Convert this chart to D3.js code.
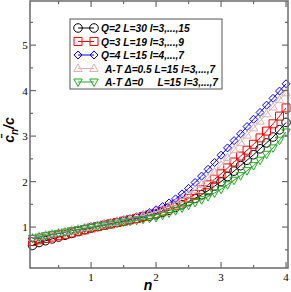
<!DOCTYPE html>
<html>
<head>
<meta charset="utf-8">
<script src="https://cdn.jsdelivr.net/npm/d3@7"></script>
<style>
  body { margin: 0; background: #fff; }
  svg { display: block; }
</style>
</head>
<body>
<svg width="291" height="292"></svg>
<script>
// n values, one point every 0.1
var nVals = d3.range(1, 41).map(function(i) { return i / 10; });

var q2 = [0.60,0.66,0.70,0.74,0.78,0.82,0.86,0.90,0.94,0.98,
          1.01,1.04,1.07,1.10,1.13,1.16,1.19,1.22,1.24,1.27,
          1.32,1.37,1.43,1.49,1.56,1.63,1.71,1.80,1.90,2.00,
          2.11,2.23,2.35,2.47,2.59,2.72,2.85,2.98,3.14,3.30];
var q3 = [0.68,0.72,0.75,0.78,0.81,0.84,0.87,0.91,0.94,0.98,
          1.01,1.04,1.07,1.10,1.13,1.16,1.19,1.23,1.27,1.30,
          1.35,1.41,1.48,1.55,1.63,1.72,1.82,1.93,2.05,2.17,
          2.30,2.43,2.56,2.69,2.82,2.96,3.11,3.27,3.44,3.62];
var q4 = [0.75,0.78,0.81,0.84,0.86,0.89,0.92,0.95,0.98,1.01,
          1.04,1.07,1.10,1.13,1.16,1.19,1.23,1.27,1.32,1.38,
          1.45,1.53,1.62,1.73,1.85,1.98,2.12,2.27,2.42,2.58,
          2.74,2.90,3.05,3.21,3.37,3.52,3.68,3.83,3.99,4.15];
var at05 = [0.77,0.80,0.83,0.85,0.88,0.90,0.93,0.96,0.99,1.01,
            1.04,1.07,1.10,1.13,1.16,1.19,1.22,1.26,1.30,1.34,
            1.39,1.45,1.53,1.61,1.71,1.82,1.94,2.07,2.21,2.36,
            2.53,2.70,2.86,3.02,3.18,3.33,3.49,3.64,3.80,3.95];
var at0 = [0.75,0.78,0.81,0.84,0.86,0.89,0.92,0.94,0.97,0.99,
           1.02,1.04,1.06,1.09,1.11,1.13,1.15,1.17,1.19,1.21,
           1.26,1.31,1.36,1.42,1.48,1.54,1.60,1.67,1.75,1.83,
           1.93,2.03,2.13,2.24,2.35,2.47,2.60,2.74,2.91,3.09];

var seriesNames = ["Q=2 L=30 l=3,...,15", "Q=3 L=19 l=3,...,9", "Q=4 L=15 l=4,...,7",
                   "A-T \u0394=0.5 L=15 l=3,...,7", "A-T \u0394=0     L=15 l=3,...,7"];
var xTicks = [1, 2, 3, 4];
var yTicks = [1, 2, 3, 4, 5];

var series = [
  {name: seriesNames[0], values: q2,   color: "#000000", shape: "circle"},
  {name: seriesNames[1], values: q3,   color: "#ff0000", shape: "square"},
  {name: seriesNames[2], values: q4,   color: "#0000ff", shape: "diamond"},
  {name: seriesNames[3], values: at05, color: "#dcb2b2", shape: "up"},
  {name: seriesNames[4], values: at0,  color: "#22a822", shape: "down"}
];

var svg = d3.select("svg");
var pL = 30, pR = 288, pT = 1, pB = 268;

var x = d3.scaleLinear().domain([0.06, 4.03]).range([pL, pR]);
var y = d3.scaleLinear().domain([0.1, 5.97]).range([pB, pT]);

var axisColor = "#6a6a6a";

// marker shapes
function markerPath(shape) {
  if (shape == "circle") return d3.symbol().type(d3.symbolCircle).size(58)();
  if (shape == "square") return "M-4,-4L4,-4L4,4L-4,4Z";
  if (shape == "diamond") return "M0,-4L4,0L0,4L-4,0Z";
  if (shape == "up") return "M0,-4.5L4.2,3L-4.2,3Z";
  return "M0,4.5L4.2,-3L-4.2,-3Z";
}

var plot = svg.append("g");

series.forEach(function(s) {
  var pts = nVals.map(function(n, i) { return [n, s.values[i]]; });
  plot.append("path")
    .attr("d", d3.line().x(function(d) { return x(d[0]); }).y(function(d) { return y(d[1]); })(pts))
    .attr("fill", "none")
    .attr("stroke", s.color)
    .attr("stroke-width", 1);
  plot.selectAll(null).data(pts).enter().append("path")
    .attr("d", markerPath(s.shape))
    .attr("transform", function(d) { return "translate(" + x(d[0]) + "," + y(d[1]) + ")"; })
    .attr("fill", "none")
    .attr("stroke", s.color)
    .attr("stroke-width", 1);
});

// frame
svg.append("rect")
  .attr("x", pL).attr("y", pT)
  .attr("width", pR - pL).attr("height", pB - pT)
  .attr("fill", "none").attr("stroke", axisColor).attr("stroke-width", 1.5);

// ticks on all four sides, pointing inward
var xMinor = d3.range(0.5, 4.01, 0.5);
var yMinor = d3.range(0.5, 5.96, 0.5);
var tg = svg.append("g").attr("stroke", axisColor).attr("stroke-width", 1.2);
xMinor.forEach(function(v) {
  var len = (v % 1 == 0) ? 6 : 3;
  tg.append("line").attr("x1", x(v)).attr("x2", x(v)).attr("y1", pB).attr("y2", pB - len);
  tg.append("line").attr("x1", x(v)).attr("x2", x(v)).attr("y1", pT).attr("y2", pT + len);
});
yMinor.forEach(function(v) {
  var len = (v % 1 == 0) ? 6 : 3;
  tg.append("line").attr("y1", y(v)).attr("y2", y(v)).attr("x1", pL).attr("x2", pL + len);
  tg.append("line").attr("y1", y(v)).attr("y2", y(v)).attr("x1", pR).attr("x2", pR - len);
});

// tick labels
svg.selectAll(".xl").data(xTicks).enter().append("text")
  .attr("x", function(d) { return x(d); }).attr("y", 281)
  .attr("text-anchor", "middle")
  .attr("font-family", "Liberation Serif, Times New Roman, serif").attr("font-size", 11)
  .text(function(d) { return d; });
svg.selectAll(".yl").data(yTicks).enter().append("text")
  .attr("x", 25).attr("y", function(d) { return y(d) + 4; })
  .attr("text-anchor", "middle")
  .attr("font-family", "Liberation Serif, Times New Roman, serif").attr("font-size", 11)
  .text(function(d) { return d; });

// axis titles
svg.append("text")
  .attr("x", 148).attr("y", 290)
  .attr("text-anchor", "middle")
  .attr("font-family", "Liberation Sans, Arial, sans-serif")
  .attr("font-size", 14).attr("font-weight", "bold").attr("font-style", "italic")
  .text("n");

var yl = svg.append("text")
  .attr("transform", "translate(14,130) rotate(-90)")
  .attr("text-anchor", "middle")
  .attr("font-family", "Liberation Sans, Arial, sans-serif")
  .attr("font-size", 14).attr("font-weight", "bold").attr("font-style", "italic");
yl.append("tspan").text("c\u0304");
yl.append("tspan").attr("font-size", 10).attr("dy", 4).text("n");
yl.append("tspan").attr("dy", -4).text("/c");

// legend
var lg = svg.append("g");
lg.append("rect").attr("x", 70).attr("y", 19).attr("width", 152).attr("height", 70)
  .attr("fill", "#fff").attr("stroke", "#555").attr("stroke-width", 1);

series.forEach(function(s, i) {
  var yy = 28 + i * 13.5;
  lg.append("line").attr("x1", 78).attr("x2", 94).attr("y1", yy).attr("y2", yy)
    .attr("stroke", s.color).attr("stroke-width", 1);
  [78, 94].forEach(function(xx) {
    lg.append("path").attr("d", markerPath(s.shape))
      .attr("transform", "translate(" + xx + "," + yy + ")")
      .attr("fill", "none").attr("stroke", s.color).attr("stroke-width", 1);
  });
  lg.append("text")
    .attr("x", i < 3 ? 101 : 105).attr("y", yy + 4)
    .attr("font-family", "Liberation Sans, Arial, sans-serif")
    .attr("font-size", 10.2).attr("font-weight", "bold").attr("font-style", "italic")
    .style("white-space", "pre")
    .text(s.name);
});
</script>
</body>
</html>
